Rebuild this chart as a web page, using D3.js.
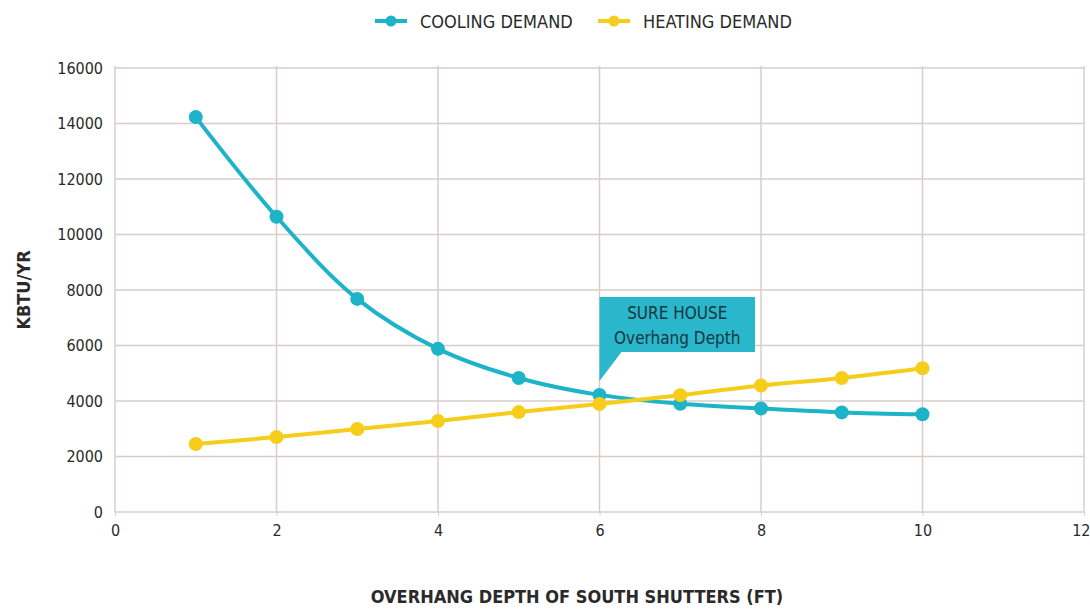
<!DOCTYPE html>
<html>
<head>
<meta charset="utf-8">
<script src="https://cdn.jsdelivr.net/npm/d3@7"></script>
<style>
  body { margin: 0; background: #fff; }
  svg { display: block; }
  svg text { font-family: 'DejaVu Sans Condensed', 'DejaVu Sans', sans-serif; font-stretch: condensed; }
</style>
</head>
<body>
<svg id="chart" width="1090" height="610"></svg>
<script>
// overhang depth (ft)
const depths = [1, 2, 3, 4, 5, 6, 7, 8, 9, 10];
const coolingDemand = [14230, 10640, 7680, 5880, 4830, 4220, 3900, 3730, 3590, 3520];
const heatingDemand = [2450, 2700, 2990, 3280, 3600, 3890, 4210, 4560, 4830, 5180];
const xTicks = [0, 2, 4, 6, 8, 10, 12];
const yTicks = [0, 2000, 4000, 6000, 8000, 10000, 12000, 14000, 16000];
const calloutDepth = 6;

const COOL = '#1db3c8';
const HEAT = '#f6cd1a';
const GRID = '#d8cdcc';
const TEXT = '#2a2a2a';

const svg = d3.select('#chart');
const margin = {left: 115, right: 6, top: 68, bottom: 98};
const width = 1090 - margin.left - margin.right;
const height = 610 - margin.top - margin.bottom;

const x = d3.scaleLinear().domain([0, 12]).range([margin.left, margin.left + width]);
const y = d3.scaleLinear().domain([0, 16000]).range([margin.top + height, margin.top]);

// grid
const grid = svg.append('g').attr('class', 'grid');
grid.selectAll('.hgrid')
  .data(yTicks)
  .enter()
  .append('line')
  .attr('x1', x(0)).attr('x2', x(12))
  .attr('y1', d => y(d)).attr('y2', d => y(d))
  .style('stroke', GRID).style('stroke-width', 1.5);
grid.selectAll('.vgrid')
  .data(xTicks)
  .enter()
  .append('line')
  .attr('x1', d => x(d)).attr('x2', d => x(d))
  .attr('y1', y(0)).attr('y2', y(16000) - 2)
  .style('stroke', GRID).style('stroke-width', 1.5);

// axes
const xAxis = svg.append('g')
  .attr('transform', `translate(0,${y(0)})`)
  .call(d3.axisBottom(x).tickValues(xTicks).tickSize(4).tickPadding(9));
const yAxis = svg.append('g')
  .attr('transform', `translate(${x(0)},0)`)
  .call(d3.axisLeft(y).tickValues(yTicks).tickFormat(d3.format('d')).tickSize(0).tickPadding(12));
[xAxis, yAxis].forEach(ax => {
  ax.select('.domain').remove();
  ax.selectAll('line').style('stroke', GRID);
  ax.selectAll('text')
    .attr('font-family', null)
    .attr('font-size', null)
    .style('font-size', '16px')
    .style('fill', TEXT);
});
// the last x label sits on the page edge, as in the source
xAxis.selectAll('text').filter(d => d === 12).attr('text-anchor', 'end').attr('dx', 6);

// axis titles
svg.append('text')
  .attr('transform', `translate(30,${y(8000)}) rotate(-90)`)
  .attr('text-anchor', 'middle')
  .style('font-size', '18px')
  .style('font-weight', 'bold')
  .style('fill', TEXT)
  .text('KBTU/YR');
svg.append('text')
  .attr('x', 577).attr('y', 603)
  .attr('text-anchor', 'middle')
  .style('font-size', '18px')
  .style('font-weight', 'bold')
  .style('fill', TEXT)
  .text('OVERHANG DEPTH OF SOUTH SHUTTERS (FT)');

// series
const series = [
  {label: 'COOLING DEMAND', values: coolingDemand, color: COOL},
  {label: 'HEATING DEMAND', values: heatingDemand, color: HEAT}
];

const line = d3.line()
  .x(d => x(d.depth))
  .y(d => y(d.value))
  .curve(d3.curveCatmullRom.alpha(0.5));

series.forEach(s => {
  const pts = depths.map((depth, i) => ({depth, value: s.values[i]}));
  svg.append('path')
    .datum(pts)
    .attr('d', line)
    .style('fill', 'none')
    .style('stroke', s.color)
    .style('stroke-width', 4);
  svg.selectAll(null)
    .data(pts)
    .enter()
    .append('circle')
    .attr('cx', d => x(d.depth))
    .attr('cy', d => y(d.value))
    .attr('r', 7)
    .style('fill', s.color);
});

// callout
const cx = x(calloutDepth);
const boxTop = 297, boxBottom = 352, boxRight = 755;
const tipY = y(coolingDemand[depths.indexOf(calloutDepth)]) - 14;
svg.append('path')
  .attr('d', `M${cx},${boxTop} L${boxRight},${boxTop} L${boxRight},${boxBottom} L${cx + 22},${boxBottom} L${cx},${tipY} Z`)
  .style('fill', '#2ab6cb');
svg.append('text')
  .attr('x', (cx + boxRight) / 2).attr('y', 319)
  .attr('text-anchor', 'middle')
  .style('font-size', '17px')
  .style('fill', '#163640')
  .text('SURE HOUSE');
svg.append('text')
  .attr('x', (cx + boxRight) / 2).attr('y', 344)
  .attr('text-anchor', 'middle')
  .style('font-size', '17px')
  .style('fill', '#163640')
  .text('Overhang Depth');

// legend
const legendPos = [375, 598];
const legend = svg.append('g');
series.forEach((s, i) => {
  const g = legend.append('g').attr('transform', `translate(${legendPos[i]},21)`);
  g.append('line')
    .attr('x1', 0).attr('x2', 32)
    .style('stroke', s.color).style('stroke-width', 4);
  g.append('circle').attr('cx', 16).attr('r', 5.5).style('fill', s.color);
  g.append('text')
    .attr('x', 45).attr('y', 7)
    .style('font-size', '18px')
    .style('fill', TEXT)
    .text(s.label);
});
</script>
</body>
</html>
